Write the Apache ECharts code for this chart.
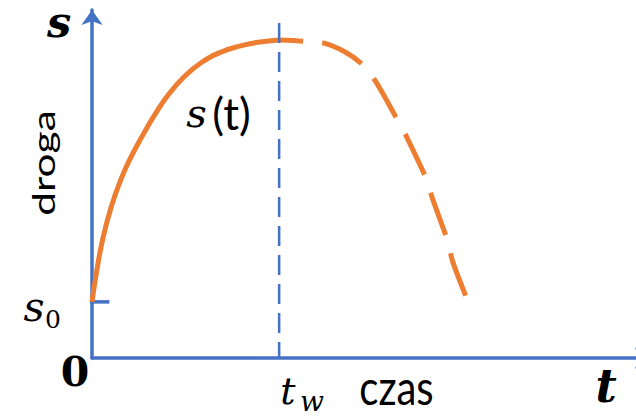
<!DOCTYPE html>
<html><head><meta charset="utf-8">
<script src="https://cdn.jsdelivr.net/npm/echarts@6/dist/echarts.min.js"></script>
<style>html,body{margin:0;padding:0;background:#fff}#c{width:636px;height:417px}</style>
</head><body><div id="c"></div>
<script>
// time (t) and distance (s) values
const solidT = [0, 0.047, 0.12, 0.21, 0.32, 0.43, 0.56, 0.68, 0.83, 1.01, 1.19, 1.41, 1.63, 1.81, 2.04];
const solidS = [0.99, 1.49, 2.12, 2.67, 3.17, 3.56, 3.95, 4.28, 4.64, 4.97, 5.21, 5.40, 5.51, 5.57, 5.61];
const dashT = [2.04, 2.30, 2.52, 2.76, 2.94, 3.08, 3.33, 3.43, 3.65, 3.71, 3.88, 3.93, 4.10];
const dashS = [5.61, 5.59, 5.56, 5.40, 5.19, 4.91, 4.20, 3.90, 3.14, 2.82, 2.05, 1.71, 0.99];
const tW = 2.04;
const tWTop = 5.91;
const s0 = 0.99;
const s0TickT = [-0.13, 0.19];
const axisMax = [5.93, 6.14];
const labels = { sAxis: 's', tAxis: 't', yName: 'droga', xName: 'czas', curveS: 's', curveT: '(t)', s0s: 's', s0sub: '0', zero: '0', tw: 't', twSub: 'w' };

const BLUE = '#4472C4', ORANGE = '#ED7D31';
const zip = (a, b) => a.map((v, i) => [v, b[i]]);
const chart = echarts.init(document.getElementById('c'), null, { renderer: 'svg' });
const serif = '"DejaVu Serif"';
function txt(text, x, y, size, family, opts) {
  opts = opts || {};
  return {
    type: 'text', x: x, y: y, rotation: opts.rot || 0,
    scaleX: opts.sx || 1, scaleY: opts.sy || 1, z: 50,
    style: {
      text: text, fill: '#000', fontSize: size, fontFamily: family,
      fontStyle: opts.italic ? 'italic' : 'normal', fontWeight: opts.bold ? 'bold' : 'normal',
      align: 'center', verticalAlign: 'middle', textAlign: 'center', textVerticalAlign: 'middle'
    }
  };
}
chart.setOption({
  animation: false,
  grid: { left: 92, top: 10, right: 0, bottom: 59 },
  xAxis: {
    type: 'value', min: 0, max: axisMax[0],
    axisLine: { show: true, onZero: false, lineStyle: { color: BLUE, width: 3.5 }, symbol: ['none', 'arrow'], symbolSize: [16, 15], symbolOffset: [0, 14] },
    axisTick: { show: false }, axisLabel: { show: false }, splitLine: { show: false }
  },
  yAxis: {
    type: 'value', min: 0, max: axisMax[1],
    axisLine: { show: true, onZero: false, lineStyle: { color: BLUE, width: 3.5 }, symbol: ['none', 'arrow'], symbolSize: [16, 15] },
    axisTick: { show: false }, axisLabel: { show: false }, splitLine: { show: false }
  },
  series: [
    { type: 'line', data: [[s0TickT[0], s0], [s0TickT[1], s0]], symbol: 'none', clip: false, silent: true, z: 2,
      lineStyle: { color: BLUE, width: 3.5 } },
    { type: 'line', data: zip(solidT, solidS), symbol: 'none', smooth: 0.5, clip: false, z: 3,
      lineStyle: { color: ORANGE, width: 5 } },
    { type: 'line', data: zip(dashT, dashS), symbol: 'none', smooth: 0.3, clip: false, z: 3,
      lineStyle: { color: ORANGE, width: 5, type: [45, 19], dashOffset: 21 } },
    { type: 'line', data: [[tW, tWTop], [tW, 0]], symbol: 'none', silent: true, clip: false, z: 5,
      lineStyle: { color: BLUE, width: 2.5, type: [20, 9] } }
  ],
  graphic: [
    txt(labels.sAxis, 59, 22, 43, serif, { bold: true, italic: true }),
    txt(labels.yName, 43, 163, 31, 'Lato', { rot: Math.PI / 2, sx: 1.37 }),
    txt(labels.curveS, 196.5, 113, 40, serif, { italic: true }),
    txt(labels.curveT, 231.5, 113, 44, 'Lato'),
    txt(labels.s0s, 34, 306.5, 41, serif, { italic: true }),
    txt(labels.s0sub, 53, 319.7, 25, serif),
    txt(labels.zero, 75, 371.5, 41, serif, { bold: true }),
    txt(labels.tw, 288, 390.5, 38, serif, { italic: true }),
    txt(labels.twSub, 312, 401, 28, serif, { italic: true }),
    txt(labels.xName, 396.5, 386, 40, 'Lato', { sy: 1.23 }),
    txt(labels.tAxis, 606, 386, 46, serif, { bold: true, italic: true })
  ]
});
</script></body></html>
